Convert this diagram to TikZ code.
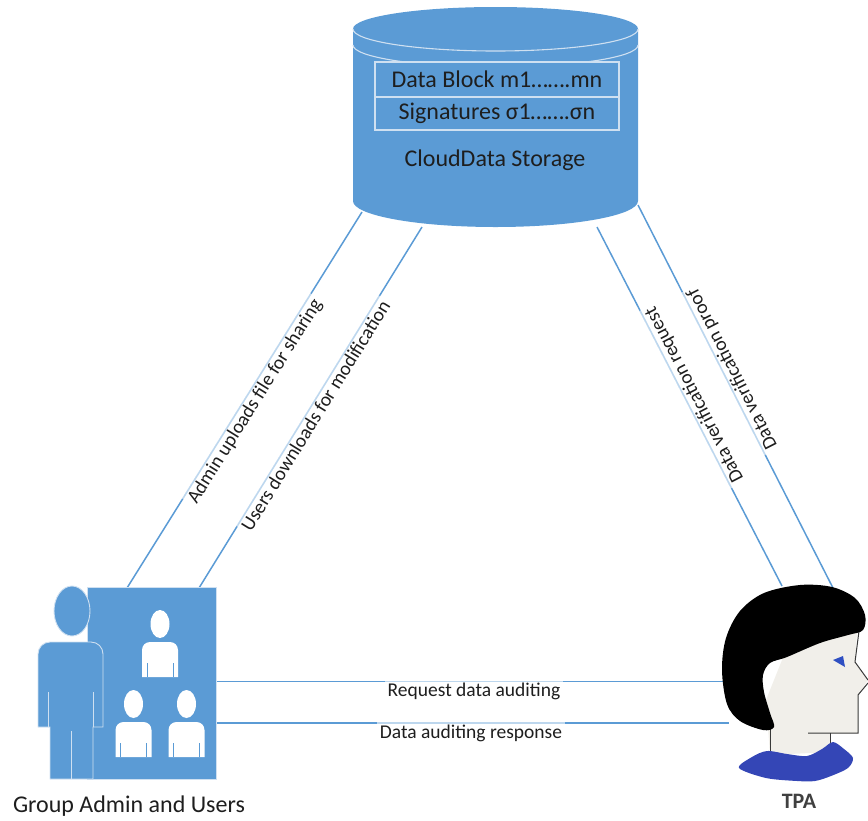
\documentclass[tikz,border=0pt]{standalone}
\usepackage{fontspec}
\setmainfont{Carlito}
\definecolor{officeblue}{HTML}{5B9BD5}
\definecolor{rimline}{HTML}{CFE0F1}
\definecolor{skin}{HTML}{F1EFEA}
\definecolor{facegray}{HTML}{3A3A3A}
\definecolor{shirt}{HTML}{3446B6}
\definecolor{eyeblue}{HTML}{2F4FC2}
\definecolor{ink}{HTML}{1E1E1E}
\begin{document}
\begin{tikzpicture}[x=1pt,y=-1pt,
  link/.style={draw=officeblue, line width=1.5pt},
  linklabel/.style={font=\fontsize{19.5}{22}\selectfont, text=ink, fill=white,
    fill opacity=0.6, text opacity=1, inner sep=2.5pt, outer sep=-1pt, anchor=north},
  rim/.style={draw=rimline, line width=1.1pt},
  silhouette/.style={fill=officeblue, draw=rimline, line width=0.9pt},
  armline/.style={draw=officeblue, line width=0.9pt},
  cloudtext/.style={font=\fontsize{24}{28}\selectfont, text=ink},
]
\useasboundingbox (0,0) rectangle (868,820);

% connector end points
\coordinate (cloudA) at (362,212);
\coordinate (cloudB) at (422,227);
\coordinate (cloudC) at (597,227);
\coordinate (cloudD) at (638,205);
\coordinate (grpA) at (127,588);
\coordinate (grpB) at (199,588);
\coordinate (grpC) at (216,681.5);
\coordinate (grpD) at (216,723);
\coordinate (tpaA) at (782,586);
\coordinate (tpaB) at (833,588);
\coordinate (tpaC) at (732,681.5);
\coordinate (tpaD) at (729,723);

% connectors with their labels
\draw[link] (grpA) -- (cloudA)
  node[linklabel, sloped, pos=0.51] (lblUpload) {Admin uploads file for sharing};
\draw[link] (grpB) -- (cloudB)
  node[linklabel, sloped, pos=0.49] (lblDownload) {Users downloads for modification};
\draw[link] (tpaA) -- (cloudC)
  node[linklabel, sloped, allow upside down, pos=0.52] (lblRequest) {Data verification request};
\draw[link] (tpaB) -- (cloudD)
  node[linklabel, sloped, allow upside down, pos=0.56] (lblProof) {Data verification proof};
\draw[link] (grpC) -- (tpaC)
  node[linklabel, pos=0.5] (lblAudit) {Request data auditing};
\draw[link] (grpD) -- (tpaD)
  node[linklabel, pos=0.497] (lblResponse) {Data auditing response};

% cloud storage cylinder
\fill[officeblue] (353,29) -- (353,201)
  arc[start angle=180, end angle=0, x radius=142.5, y radius=26] -- (638,29)
  arc[start angle=0, end angle=-180, x radius=142.5, y radius=22] -- cycle;
\draw[rim] (353,29) arc[start angle=180, end angle=0, x radius=142.5, y radius=22];
\draw[rim] (353,45) arc[start angle=180, end angle=0, x radius=142.5, y radius=22];
\node[rim, fill=officeblue, cloudtext, minimum width=244pt, minimum height=35pt, inner sep=0pt]
  (blockrow) at (497,79.5) {Data Block m1…….mn};
\node[rim, fill=officeblue, cloudtext, minimum width=244pt, minimum height=33pt, inner sep=0pt]
  (sigrow) at (497,113.5) {Signatures σ1…….σn};
\node[cloudtext] (storage) at (495,160) {CloudData Storage};

% group admin and users icon
\draw[silhouette] (87,587) rectangle (216,779);
\draw[silhouette] (50,779) -- (50,727) -- (38,727) -- (38,654)
  arc[start angle=180, end angle=270, radius=12] -- (91,642)
  arc[start angle=270, end angle=360, radius=12] -- (103,727) -- (93,727) -- (93,779) -- cycle;
\draw[rimline, line width=0.9pt] (48,692) -- (48,727) (93,692) -- (93,727) (71.5,731) -- (71.5,779);
\draw[silhouette] (72,611) ellipse[x radius=18, y radius=25];
\foreach \cx/\cy/\hy in {160/642/624, 133.5/722/704, 186.5/722/704} {
  \fill[white] (\cx,\hy) ellipse[x radius=9.5, y radius=14];
  \fill[white] (\cx-18,\cy+35) -- (\cx-18,\cy+8)
    arc[start angle=180, end angle=270, radius=8] -- (\cx+10,\cy)
    arc[start angle=270, end angle=360, radius=8] -- (\cx+18,\cy+35) -- cycle;
  \draw[armline] (\cx-13,\cy+21) -- (\cx-13,\cy+35) (\cx+13,\cy+21) -- (\cx+13,\cy+35);
}
\node[font=\fontsize{24}{28}\selectfont, text=ink] (grpLabel) at (129,806) {Group Admin and Users};

% TPA head
\fill[skin] (790,640) -- (857,633) -- (855,662) -- (868,680) -- (858,695) -- (858,733)
  -- (830,733) -- (830,752) -- (770,755) -- (766,700) -- cycle;
\draw[facegray, line width=1pt] (859,631) -- (855,662) -- (868,680);
\draw[facegray, line width=1pt] (868,683) -- (858,695) -- (858,733) -- (808,733);
\draw[facegray, line width=0.8pt] (830,733) -- (830,750) (770,725) -- (770,752);
\fill[black] plot[smooth cycle, tension=0.55] coordinates {
  (800,585) (832,587) (855,598) (865,615) (863,630) (848,635) (820,643) (787,657)
  (770,663) (763,675) (764,692) (770,713) (774,727) (763,730) (740,721) (727,704)
  (722,670) (726,638) (740,611) (764,593)};
\fill[shirt] plot[smooth cycle, tension=0.5] coordinates {
  (739,768) (752,757) (767,751) (787,754) (807,756) (822,749) (833,742) (844,749)
  (853,758) (848,768) (831,776) (815,781) (797,781) (766,778)};
\fill[eyeblue] (833,660) -- (843,656) -- (845,667) -- cycle;
\node[font=\bfseries\fontsize{22}{26}\selectfont, text=ink!85] (tpaLabel) at (799,801) {TPA};
\end{tikzpicture}
\end{document}
